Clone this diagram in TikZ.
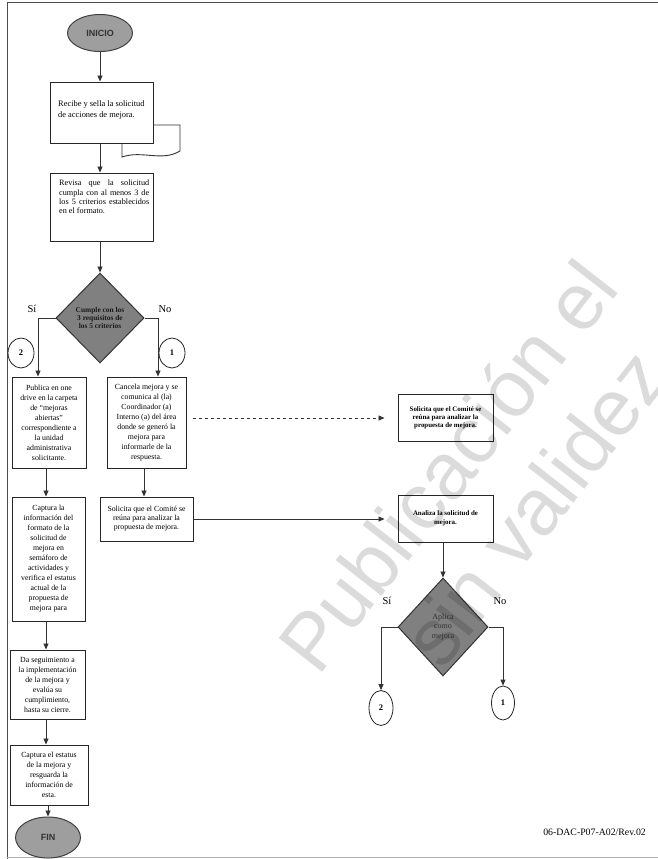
\documentclass[tikz,border=0pt]{standalone}
\usepackage{fontspec}
\setmainfont{Liberation Serif}
\newfontfamily\hdfont{Liberation Sans}
\usetikzlibrary{arrows.meta,shapes.geometric}
\begin{document}
\begin{tikzpicture}[x=1pt,y=-1pt,
  box/.style={draw=black!85, line width=1pt, fill=white, inner sep=2pt, align=center, font=\fontsize{7.8}{10}\selectfont},
  term/.style={ellipse, draw=black!75, line width=1pt, fill=black!38, inner sep=0pt, font=\hdfont\bfseries\fontsize{9}{10}\selectfont, text=black!80},
  dec/.style={diamond, draw=black!80, line width=1pt, fill=black!50, inner sep=0pt, align=center},
  conn/.style={ellipse, draw=black!85, line width=0.8pt, fill=white, inner sep=0pt, font=\bfseries\fontsize{8.5}{9}\selectfont},
  arr/.style={-{Triangle[length=6pt,width=5pt]}, line width=0.8pt, draw=black!80},
  lbl/.style={font=\fontsize{10.5}{12}\selectfont},
  wm/.style={anchor=base west, rotate=52, inner sep=0pt, font=\hdfont\fontsize{80}{80}\selectfont, text=black, text opacity=0.14}
]
\useasboundingbox (0,0) rectangle (658,859);
\fill[white] (0,0) rectangle (658,859);
% frame
\draw[black!70, line width=1pt] (7,859) -- (7,3) -- (658,3);
\draw[black!30, line width=0.6pt] (7,857) -- (658,857);

% left column
\node[term, minimum width=65pt, minimum height=37pt] (inicio) at (100,33) {INICIO};
\node[box, minimum width=103pt, minimum height=61pt] (b1) at (101.5,112.5) {};
\node[anchor=west, align=left, inner sep=0pt, font=\fontsize{8.4}{11.5}\selectfont] (b1t) at (58,110) {Recibe y sella la solicitud\\de acciones de mejora.};
\draw[black!80, line width=0.9pt] (153,125) -- (180,125) -- (180,151) .. controls (162,162) and (142,150) .. (122,157) -- (122,143.5);

\node[box, minimum width=103pt, minimum height=68pt] (b2) at (101.5,207) {};
\node[anchor=north west, inner sep=0pt, align=left, font=\fontsize{8.2}{9.3}\selectfont] (b2t) at (59,180) {\makebox[90pt][s]{Revisa que la solicitud}\\\makebox[90pt][s]{cumpla con al menos 3 de}\\\makebox[90pt][s]{los 5 criterios establecidos}\\en el formato.};

\node[dec, minimum width=88pt, minimum height=90pt, font=\bfseries\fontsize{7.4}{8.4}\selectfont, text=black!90] (d1) at (100,318) {Cumple con los\\3 requisitos de\\los 5 criterios};
\node[lbl] (si1) at (32,309) {Sí};
\node[lbl] (no1) at (165,309) {No};

\node[box, minimum width=74pt, minimum height=91pt] (b3) at (49,422.5) {Publica en one\\drive en la carpeta\\de “mejoras\\abiertas”\\correspondiente a\\la unidad\\administrativa\\solicitante.};
\node[box, minimum width=79pt, minimum height=91pt] (b4) at (146.5,422.5) {Cancela mejora y se\\comunica al (la)\\Coordinador (a)\\Interno (a) del área\\donde se generó la\\mejora para\\informarle de la\\respuesta.};
\node[conn, minimum width=26pt, minimum height=30pt] (c2a) at (21,353) {2};
\node[conn, minimum width=26pt, minimum height=30pt] (c1a) at (172,353) {1};

\node[box, minimum width=73pt, minimum height=124pt] (b5) at (48.5,559) {Captura la\\información del\\formato de la\\solicitud de\\mejora en\\semáforo de\\actividades y\\verifica el estatus\\actual de la\\propuesta de\\mejora para};
\node[box, minimum width=93pt, minimum height=44pt, font=\fontsize{7.8}{9}\selectfont] (b6) at (146.5,519) {Solicita que el Comité se\\reúna para analizar la\\propuesta de mejora.};
\node[box, minimum width=75pt, minimum height=69pt] (b7) at (47.5,684.5) {Da seguimiento a\\la implementación\\de la mejora y\\evalúa su\\cumplimiento,\\hasta su cierre.};
\node[box, minimum width=78pt, minimum height=60pt] (b8) at (49,775) {Captura el estatus\\de la mejora y\\resguarda la\\información de\\esta.};
\node[term, minimum width=65pt, minimum height=41pt] (fin) at (48,837.5) {FIN};

% right column
\node[box, minimum width=95pt, minimum height=47pt, font=\bfseries\fontsize{6.9}{8.2}\selectfont] (r1) at (445.5,418) {Solicita que el Comité se\\reúna para analizar la\\propuesta de mejora.};
\node[box, minimum width=95pt, minimum height=47pt, font=\bfseries\fontsize{6.9}{9}\selectfont] (r2) at (445.5,518.5) {Analiza la solicitud de\\mejora.};
\node[dec, minimum width=90pt, minimum height=98pt, font=\fontsize{8}{9.5}\selectfont, text=black!80] (d2) at (443,627) {Aplica\\como\\mejora};
\node[lbl] (si2) at (387,601) {Sí};
\node[lbl] (no2) at (500,601) {No};
\node[conn, minimum width=24pt, minimum height=35pt] (c2b) at (381,708) {2};
\node[conn, minimum width=23pt, minimum height=34pt] (c1b) at (503,703) {1};

\node[anchor=east, inner sep=0pt, font=\fontsize{9.8}{11}\selectfont] (code) at (646,832) {06-DAC-P07-A02/Rev.02};

% connectors
\draw[arr] (inicio.south) -- ([xshift=-1.5pt]b1.north);
\draw[arr] ([xshift=-1.5pt]b1.south) -- ([xshift=-1.5pt]b2.north);
\draw[arr] ([xshift=-1.5pt]b2.south) -- (d1.north);
\draw[arr] (d1.west) -| ([xshift=-11pt]b3.north);
\draw[arr] (d1.east) -| ([xshift=11.5pt]b4.north);
\draw[arr] ([xshift=-3pt]b3.south) -- ([xshift=-2.5pt]b5.north);
\draw[arr] ([xshift=-2.5pt]b4.south) -- ([xshift=-2.5pt]b6.north);
\draw[arr] ([xshift=-2.5pt]b5.south) -- ([xshift=-1.5pt]b7.north);
\draw[arr] ([xshift=-1.5pt]b7.south) -- ([xshift=-3pt]b8.north);
\draw[arr] ([xshift=-1pt]b8.south) -- (fin.north);
\draw[arr, dashed, shorten <=6pt, shorten >=13pt] (b4.east |- r1.west) -- (r1.west);
\draw[arr, shorten >=13pt] (b6.east) -- (b6.east -| r2.west);
\draw[arr] ([xshift=-2.5pt]r2.south) -- (d2.north);
\draw[arr] (d2.west) -| (c2b.north);
\draw[arr] (d2.east) -| (c1b.north);

% watermark
\node[wm] (wm1) at (318,678) {Publicación el};
\node[wm] (wm2) at (442,672) {sin validez};
\end{tikzpicture}
\end{document}
